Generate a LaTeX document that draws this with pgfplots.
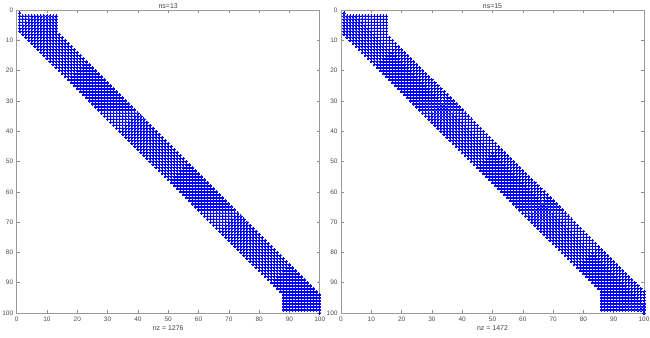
\documentclass[border=0pt]{standalone}
\usepackage{pgfplots}
\pgfplotsset{compat=1.18}
\usepackage{pgfplotstable}
\usepackage{fontspec}
\setmainfont{Liberation Sans}

% ns=13: each line = row, then the 13 nonzero columns of that row
\pgfplotstableread[header=false]{
2 1 2 3 4 5 6 7 8 9 10 11 12 13
3 1 2 3 4 5 6 7 8 9 10 11 12 13
4 1 2 3 4 5 6 7 8 9 10 11 12 13
5 1 2 3 4 5 6 7 8 9 10 11 12 13
6 1 2 3 4 5 6 7 8 9 10 11 12 13
7 1 2 3 4 5 6 7 8 9 10 11 12 13
8 2 3 4 5 6 7 8 9 10 11 12 13 14
9 3 4 5 6 7 8 9 10 11 12 13 14 15
10 4 5 6 7 8 9 10 11 12 13 14 15 16
11 5 6 7 8 9 10 11 12 13 14 15 16 17
12 6 7 8 9 10 11 12 13 14 15 16 17 18
13 7 8 9 10 11 12 13 14 15 16 17 18 19
14 8 9 10 11 12 13 14 15 16 17 18 19 20
15 9 10 11 12 13 14 15 16 17 18 19 20 21
16 10 11 12 13 14 15 16 17 18 19 20 21 22
17 11 12 13 14 15 16 17 18 19 20 21 22 23
18 12 13 14 15 16 17 18 19 20 21 22 23 24
19 13 14 15 16 17 18 19 20 21 22 23 24 25
20 14 15 16 17 18 19 20 21 22 23 24 25 26
21 15 16 17 18 19 20 21 22 23 24 25 26 27
22 16 17 18 19 20 21 22 23 24 25 26 27 28
23 17 18 19 20 21 22 23 24 25 26 27 28 29
24 18 19 20 21 22 23 24 25 26 27 28 29 30
25 19 20 21 22 23 24 25 26 27 28 29 30 31
26 20 21 22 23 24 25 26 27 28 29 30 31 32
27 21 22 23 24 25 26 27 28 29 30 31 32 33
28 22 23 24 25 26 27 28 29 30 31 32 33 34
29 23 24 25 26 27 28 29 30 31 32 33 34 35
30 24 25 26 27 28 29 30 31 32 33 34 35 36
31 25 26 27 28 29 30 31 32 33 34 35 36 37
32 26 27 28 29 30 31 32 33 34 35 36 37 38
33 27 28 29 30 31 32 33 34 35 36 37 38 39
34 28 29 30 31 32 33 34 35 36 37 38 39 40
35 29 30 31 32 33 34 35 36 37 38 39 40 41
36 30 31 32 33 34 35 36 37 38 39 40 41 42
37 31 32 33 34 35 36 37 38 39 40 41 42 43
38 32 33 34 35 36 37 38 39 40 41 42 43 44
39 33 34 35 36 37 38 39 40 41 42 43 44 45
40 34 35 36 37 38 39 40 41 42 43 44 45 46
41 35 36 37 38 39 40 41 42 43 44 45 46 47
42 36 37 38 39 40 41 42 43 44 45 46 47 48
43 37 38 39 40 41 42 43 44 45 46 47 48 49
44 38 39 40 41 42 43 44 45 46 47 48 49 50
45 39 40 41 42 43 44 45 46 47 48 49 50 51
46 40 41 42 43 44 45 46 47 48 49 50 51 52
47 41 42 43 44 45 46 47 48 49 50 51 52 53
48 42 43 44 45 46 47 48 49 50 51 52 53 54
49 43 44 45 46 47 48 49 50 51 52 53 54 55
50 44 45 46 47 48 49 50 51 52 53 54 55 56
51 45 46 47 48 49 50 51 52 53 54 55 56 57
52 46 47 48 49 50 51 52 53 54 55 56 57 58
53 47 48 49 50 51 52 53 54 55 56 57 58 59
54 48 49 50 51 52 53 54 55 56 57 58 59 60
55 49 50 51 52 53 54 55 56 57 58 59 60 61
56 50 51 52 53 54 55 56 57 58 59 60 61 62
57 51 52 53 54 55 56 57 58 59 60 61 62 63
58 52 53 54 55 56 57 58 59 60 61 62 63 64
59 53 54 55 56 57 58 59 60 61 62 63 64 65
60 54 55 56 57 58 59 60 61 62 63 64 65 66
61 55 56 57 58 59 60 61 62 63 64 65 66 67
62 56 57 58 59 60 61 62 63 64 65 66 67 68
63 57 58 59 60 61 62 63 64 65 66 67 68 69
64 58 59 60 61 62 63 64 65 66 67 68 69 70
65 59 60 61 62 63 64 65 66 67 68 69 70 71
66 60 61 62 63 64 65 66 67 68 69 70 71 72
67 61 62 63 64 65 66 67 68 69 70 71 72 73
68 62 63 64 65 66 67 68 69 70 71 72 73 74
69 63 64 65 66 67 68 69 70 71 72 73 74 75
70 64 65 66 67 68 69 70 71 72 73 74 75 76
71 65 66 67 68 69 70 71 72 73 74 75 76 77
72 66 67 68 69 70 71 72 73 74 75 76 77 78
73 67 68 69 70 71 72 73 74 75 76 77 78 79
74 68 69 70 71 72 73 74 75 76 77 78 79 80
75 69 70 71 72 73 74 75 76 77 78 79 80 81
76 70 71 72 73 74 75 76 77 78 79 80 81 82
77 71 72 73 74 75 76 77 78 79 80 81 82 83
78 72 73 74 75 76 77 78 79 80 81 82 83 84
79 73 74 75 76 77 78 79 80 81 82 83 84 85
80 74 75 76 77 78 79 80 81 82 83 84 85 86
81 75 76 77 78 79 80 81 82 83 84 85 86 87
82 76 77 78 79 80 81 82 83 84 85 86 87 88
83 77 78 79 80 81 82 83 84 85 86 87 88 89
84 78 79 80 81 82 83 84 85 86 87 88 89 90
85 79 80 81 82 83 84 85 86 87 88 89 90 91
86 80 81 82 83 84 85 86 87 88 89 90 91 92
87 81 82 83 84 85 86 87 88 89 90 91 92 93
88 82 83 84 85 86 87 88 89 90 91 92 93 94
89 83 84 85 86 87 88 89 90 91 92 93 94 95
90 84 85 86 87 88 89 90 91 92 93 94 95 96
91 85 86 87 88 89 90 91 92 93 94 95 96 97
92 86 87 88 89 90 91 92 93 94 95 96 97 98
93 87 88 89 90 91 92 93 94 95 96 97 98 99
94 88 89 90 91 92 93 94 95 96 97 98 99 100
95 88 89 90 91 92 93 94 95 96 97 98 99 100
96 88 89 90 91 92 93 94 95 96 97 98 99 100
97 88 89 90 91 92 93 94 95 96 97 98 99 100
98 88 89 90 91 92 93 94 95 96 97 98 99 100
99 88 89 90 91 92 93 94 95 96 97 98 99 100
}\spyA

% ns=15: each line = row, then the 15 nonzero columns of that row
\pgfplotstableread[header=false]{
2 1 2 3 4 5 6 7 8 9 10 11 12 13 14 15
3 1 2 3 4 5 6 7 8 9 10 11 12 13 14 15
4 1 2 3 4 5 6 7 8 9 10 11 12 13 14 15
5 1 2 3 4 5 6 7 8 9 10 11 12 13 14 15
6 1 2 3 4 5 6 7 8 9 10 11 12 13 14 15
7 1 2 3 4 5 6 7 8 9 10 11 12 13 14 15
8 1 2 3 4 5 6 7 8 9 10 11 12 13 14 15
9 2 3 4 5 6 7 8 9 10 11 12 13 14 15 16
10 3 4 5 6 7 8 9 10 11 12 13 14 15 16 17
11 4 5 6 7 8 9 10 11 12 13 14 15 16 17 18
12 5 6 7 8 9 10 11 12 13 14 15 16 17 18 19
13 6 7 8 9 10 11 12 13 14 15 16 17 18 19 20
14 7 8 9 10 11 12 13 14 15 16 17 18 19 20 21
15 8 9 10 11 12 13 14 15 16 17 18 19 20 21 22
16 9 10 11 12 13 14 15 16 17 18 19 20 21 22 23
17 10 11 12 13 14 15 16 17 18 19 20 21 22 23 24
18 11 12 13 14 15 16 17 18 19 20 21 22 23 24 25
19 12 13 14 15 16 17 18 19 20 21 22 23 24 25 26
20 13 14 15 16 17 18 19 20 21 22 23 24 25 26 27
21 14 15 16 17 18 19 20 21 22 23 24 25 26 27 28
22 15 16 17 18 19 20 21 22 23 24 25 26 27 28 29
23 16 17 18 19 20 21 22 23 24 25 26 27 28 29 30
24 17 18 19 20 21 22 23 24 25 26 27 28 29 30 31
25 18 19 20 21 22 23 24 25 26 27 28 29 30 31 32
26 19 20 21 22 23 24 25 26 27 28 29 30 31 32 33
27 20 21 22 23 24 25 26 27 28 29 30 31 32 33 34
28 21 22 23 24 25 26 27 28 29 30 31 32 33 34 35
29 22 23 24 25 26 27 28 29 30 31 32 33 34 35 36
30 23 24 25 26 27 28 29 30 31 32 33 34 35 36 37
31 24 25 26 27 28 29 30 31 32 33 34 35 36 37 38
32 25 26 27 28 29 30 31 32 33 34 35 36 37 38 39
33 26 27 28 29 30 31 32 33 34 35 36 37 38 39 40
34 27 28 29 30 31 32 33 34 35 36 37 38 39 40 41
35 28 29 30 31 32 33 34 35 36 37 38 39 40 41 42
36 29 30 31 32 33 34 35 36 37 38 39 40 41 42 43
37 30 31 32 33 34 35 36 37 38 39 40 41 42 43 44
38 31 32 33 34 35 36 37 38 39 40 41 42 43 44 45
39 32 33 34 35 36 37 38 39 40 41 42 43 44 45 46
40 33 34 35 36 37 38 39 40 41 42 43 44 45 46 47
41 34 35 36 37 38 39 40 41 42 43 44 45 46 47 48
42 35 36 37 38 39 40 41 42 43 44 45 46 47 48 49
43 36 37 38 39 40 41 42 43 44 45 46 47 48 49 50
44 37 38 39 40 41 42 43 44 45 46 47 48 49 50 51
45 38 39 40 41 42 43 44 45 46 47 48 49 50 51 52
46 39 40 41 42 43 44 45 46 47 48 49 50 51 52 53
47 40 41 42 43 44 45 46 47 48 49 50 51 52 53 54
48 41 42 43 44 45 46 47 48 49 50 51 52 53 54 55
49 42 43 44 45 46 47 48 49 50 51 52 53 54 55 56
50 43 44 45 46 47 48 49 50 51 52 53 54 55 56 57
51 44 45 46 47 48 49 50 51 52 53 54 55 56 57 58
52 45 46 47 48 49 50 51 52 53 54 55 56 57 58 59
53 46 47 48 49 50 51 52 53 54 55 56 57 58 59 60
54 47 48 49 50 51 52 53 54 55 56 57 58 59 60 61
55 48 49 50 51 52 53 54 55 56 57 58 59 60 61 62
56 49 50 51 52 53 54 55 56 57 58 59 60 61 62 63
57 50 51 52 53 54 55 56 57 58 59 60 61 62 63 64
58 51 52 53 54 55 56 57 58 59 60 61 62 63 64 65
59 52 53 54 55 56 57 58 59 60 61 62 63 64 65 66
60 53 54 55 56 57 58 59 60 61 62 63 64 65 66 67
61 54 55 56 57 58 59 60 61 62 63 64 65 66 67 68
62 55 56 57 58 59 60 61 62 63 64 65 66 67 68 69
63 56 57 58 59 60 61 62 63 64 65 66 67 68 69 70
64 57 58 59 60 61 62 63 64 65 66 67 68 69 70 71
65 58 59 60 61 62 63 64 65 66 67 68 69 70 71 72
66 59 60 61 62 63 64 65 66 67 68 69 70 71 72 73
67 60 61 62 63 64 65 66 67 68 69 70 71 72 73 74
68 61 62 63 64 65 66 67 68 69 70 71 72 73 74 75
69 62 63 64 65 66 67 68 69 70 71 72 73 74 75 76
70 63 64 65 66 67 68 69 70 71 72 73 74 75 76 77
71 64 65 66 67 68 69 70 71 72 73 74 75 76 77 78
72 65 66 67 68 69 70 71 72 73 74 75 76 77 78 79
73 66 67 68 69 70 71 72 73 74 75 76 77 78 79 80
74 67 68 69 70 71 72 73 74 75 76 77 78 79 80 81
75 68 69 70 71 72 73 74 75 76 77 78 79 80 81 82
76 69 70 71 72 73 74 75 76 77 78 79 80 81 82 83
77 70 71 72 73 74 75 76 77 78 79 80 81 82 83 84
78 71 72 73 74 75 76 77 78 79 80 81 82 83 84 85
79 72 73 74 75 76 77 78 79 80 81 82 83 84 85 86
80 73 74 75 76 77 78 79 80 81 82 83 84 85 86 87
81 74 75 76 77 78 79 80 81 82 83 84 85 86 87 88
82 75 76 77 78 79 80 81 82 83 84 85 86 87 88 89
83 76 77 78 79 80 81 82 83 84 85 86 87 88 89 90
84 77 78 79 80 81 82 83 84 85 86 87 88 89 90 91
85 78 79 80 81 82 83 84 85 86 87 88 89 90 91 92
86 79 80 81 82 83 84 85 86 87 88 89 90 91 92 93
87 80 81 82 83 84 85 86 87 88 89 90 91 92 93 94
88 81 82 83 84 85 86 87 88 89 90 91 92 93 94 95
89 82 83 84 85 86 87 88 89 90 91 92 93 94 95 96
90 83 84 85 86 87 88 89 90 91 92 93 94 95 96 97
91 84 85 86 87 88 89 90 91 92 93 94 95 96 97 98
92 85 86 87 88 89 90 91 92 93 94 95 96 97 98 99
93 86 87 88 89 90 91 92 93 94 95 96 97 98 99 100
94 86 87 88 89 90 91 92 93 94 95 96 97 98 99 100
95 86 87 88 89 90 91 92 93 94 95 96 97 98 99 100
96 86 87 88 89 90 91 92 93 94 95 96 97 98 99 100
97 86 87 88 89 90 91 92 93 94 95 96 97 98 99 100
98 86 87 88 89 90 91 92 93 94 95 96 97 98 99 100
99 86 87 88 89 90 91 92 93 94 95 96 97 98 99 100
}\spyB

\pgfplotsset{
  spyaxis/.style={
    anchor=north west,
    x=3.03bp, y=3.03bp,
    xmin=0, xmax=100, ymin=0, ymax=100,
    y dir=reverse,
    xtick={0,10,...,100}, ytick={0,10,...,100},
    tick align=inside,
    major tick length=3bp,
    /pgf/number format/assume math mode=true,
    axis line style={black!40, line width=0.5bp},
    every tick/.style={black!45, line width=0.5bp},
    tick label style={font=\fontsize{6.5}{7}\selectfont, text=black!70},
    every axis title/.style={at={(0.5,1)}, anchor=south, inner sep=1.2bp,
      font=\fontsize{7}{8}\selectfont, text=black!75},
    xlabel style={font=\fontsize{7}{8}\selectfont, text=black!75, inner sep=1bp},
    clip=false,
  },
  spydots/.style={only marks, color=blue, mark=*, mark size=1.1bp,
    mark options={draw=blue, fill=blue, line width=0pt}},
}

\begin{document}
\begin{tikzpicture}
\useasboundingbox (-16.7bp,10bp) rectangle (633.3bp,-328bp);
\begin{axis}[spyaxis, at={(0,0)}, title={ns=13}, xlabel={nz = 1276}]
  \addplot[spydots] coordinates {(1,1) (100,100)};
  \pgfplotsinvokeforeach{1,...,13}{
    \addplot[spydots] table[x index=#1, y index=0] {\spyA};
  }
\end{axis}
\begin{axis}[spyaxis, at={(324.3bp,0)}, title={ns=15}, xlabel={nz = 1472}]
  \addplot[spydots] coordinates {(1,1) (100,100)};
  \pgfplotsinvokeforeach{1,...,15}{
    \addplot[spydots] table[x index=#1, y index=0] {\spyB};
  }
\end{axis}
\end{tikzpicture}
\end{document}
